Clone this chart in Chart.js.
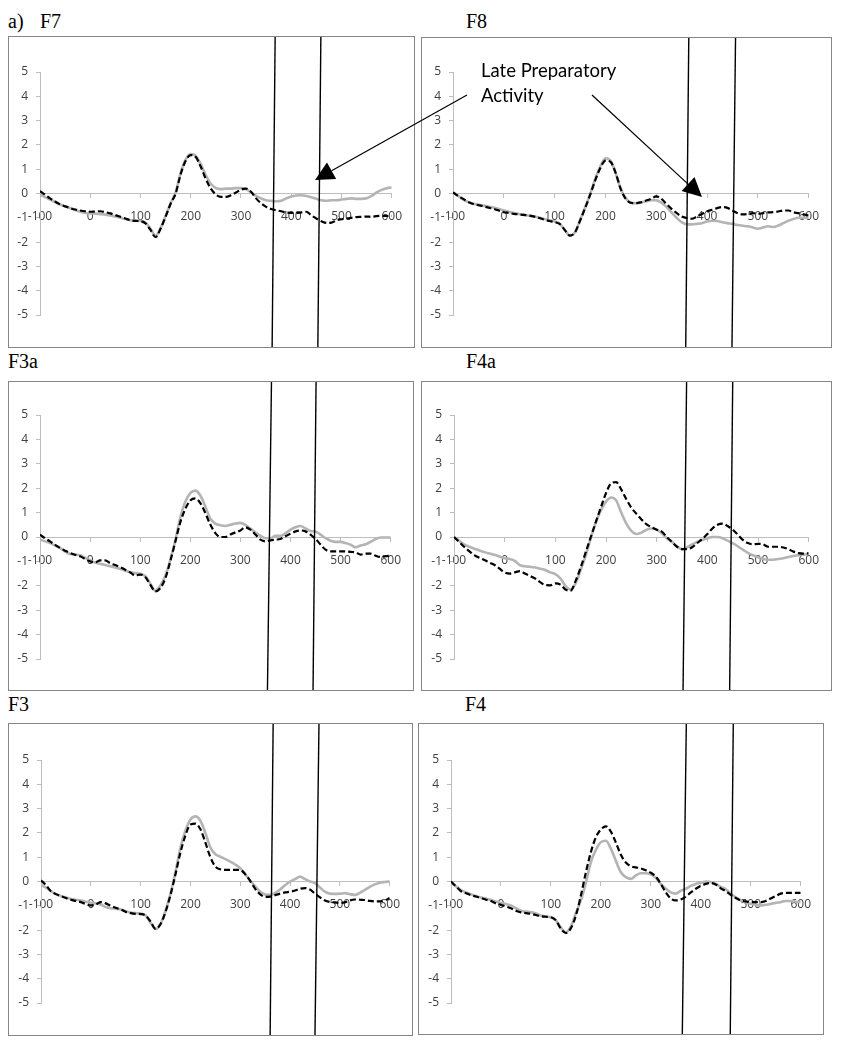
<!DOCTYPE html>
<html>
<head>
<meta charset="utf-8">
<script src="https://cdn.jsdelivr.net/npm/chart.js@4/dist/chart.umd.min.js"></script>
<style>
  body { margin: 0; background: #fff; }
  #page { position: relative; width: 841px; height: 1050px; overflow: hidden; }
  .box { position: absolute; border: 1px solid #858585; box-sizing: border-box; }
  .box canvas { position: absolute; left: 0; top: 0; }
  .title { position: absolute; font-family: 'Liberation Serif', 'Times New Roman', serif; font-size: 20px; line-height: 20px; color: #000; white-space: pre; }
  .note { position: absolute; font-family: Lato, 'Open Sans', sans-serif; font-size: 18.5px; line-height: 25px; color: #000; }
  #arrows { position: absolute; left: 0; top: 0; pointer-events: none; }
</style>
</head>
<body>
<div id="page">
  <div class="title" style="left:8px; top:11px;">a)</div>
  <div class="title" style="left:40px; top:11px;">F7</div>
  <div class="title" style="left:466px; top:11px;">F8</div>
  <div class="title" style="left:8px; top:351px;">F3a</div>
  <div class="title" style="left:466px; top:351px;">F4a</div>
  <div class="title" style="left:8px; top:694px;">F3</div>
  <div class="title" style="left:465px; top:694px;">F4</div>
  <canvas id="arrows" width="841" height="1050"></canvas>
  <div class="note" style="left:481px; top:58px;">Late Preparatory<br>Activity</div>
</div>

<script>
// time axis (ms) and tick settings
const times = [
    -100, -90, -80, -70, -60, -50, -40, -30, -20, -10,
    0, 10, 20, 30, 40, 50, 60, 70, 80, 90,
    100, 110, 120, 130, 140, 150, 160, 170, 180, 190,
    200, 210, 220, 230, 240, 250, 260, 270, 280, 290,
    300, 310, 320, 330, 340, 350, 360, 370, 380, 390,
    400, 410, 420, 430, 440, 450, 460, 470, 480, 490,
    500, 510, 520, 530, 540, 550, 560, 570, 580, 590,
    600
];
const xTickStep = 100;
const yTickStep = 1;

// F7
const f7Black = [
    0.1, -0.05, -0.2, -0.33, -0.45, -0.53, -0.6, -0.66, -0.7, -0.73,
    -0.75, -0.74, -0.73, -0.77, -0.82, -0.89, -0.96, -1.03, -1.1, -1.13,
    -1.14, -1.23, -1.5, -1.8, -1.45, -0.95, -0.42, 0.0, 0.8, 1.35,
    1.58, 1.5, 1.1, 0.6, 0.2, -0.04, -0.14, -0.14, -0.07, 0.04,
    0.16, 0.2, 0.07, -0.2, -0.4, -0.55, -0.64, -0.69, -0.73, -0.78,
    -0.8, -0.8, -0.78, -0.75, -0.9, -1.03, -1.14, -1.21, -1.2, -1.1,
    -1.06, -1.03, -1.0, -0.97, -0.96, -0.95, -0.96, -0.93, -0.92, -0.92,
    -0.92
];
const f7Gray = [
    -0.05, -0.15, -0.25, -0.35, -0.45, -0.53, -0.6, -0.68, -0.75, -0.8,
    -0.82, -0.83, -0.85, -0.87, -0.9, -0.95, -1.0, -1.05, -1.1, -1.11,
    -1.12, -1.2, -1.45, -1.75, -1.42, -0.92, -0.4, 0.05, 0.85, 1.4,
    1.62, 1.55, 1.2, 0.75, 0.4, 0.22, 0.18, 0.2, 0.2, 0.22,
    0.22, 0.18, 0.05, -0.1, -0.2, -0.28, -0.3, -0.32, -0.3, -0.2,
    -0.12, -0.08, -0.07, -0.1, -0.15, -0.22, -0.28, -0.3, -0.28, -0.28,
    -0.25, -0.22, -0.2, -0.22, -0.22, -0.2, -0.1, 0.05, 0.15, 0.22,
    0.25
];

// F8
const f8Black = [
    0.05, -0.1, -0.22, -0.35, -0.43, -0.48, -0.53, -0.58, -0.63, -0.7,
    -0.77, -0.8, -0.84, -0.86, -0.88, -0.91, -0.95, -1.01, -1.08, -1.13,
    -1.18, -1.25, -1.5, -1.73, -1.6, -1.12, -0.6, -0.05, 0.55, 1.05,
    1.35, 1.3, 0.85, 0.19, -0.22, -0.38, -0.4, -0.36, -0.29, -0.22,
    -0.12, -0.22, -0.43, -0.63, -0.8, -0.95, -1.01, -1.04, -0.95, -0.84,
    -0.73, -0.67, -0.6, -0.56, -0.59, -0.7, -0.81, -0.86, -0.84, -0.81,
    -0.84, -0.81, -0.78, -0.77, -0.74, -0.7, -0.7, -0.77, -0.81, -0.86,
    -0.9
];
const f8Gray = [
    0.05, -0.1, -0.25, -0.35, -0.42, -0.46, -0.5, -0.54, -0.58, -0.64,
    -0.7, -0.75, -0.8, -0.84, -0.88, -0.91, -0.95, -1.0, -1.05, -1.1,
    -1.15, -1.25, -1.5, -1.73, -1.6, -1.1, -0.58, -0.02, 0.6, 1.12,
    1.45, 1.35, 0.85, 0.2, -0.2, -0.38, -0.4, -0.37, -0.32, -0.28,
    -0.28, -0.38, -0.55, -0.78, -1.0, -1.18, -1.27, -1.27, -1.25, -1.22,
    -1.15, -1.12, -1.13, -1.18, -1.22, -1.25, -1.3, -1.33, -1.35, -1.4,
    -1.45, -1.4, -1.35, -1.38, -1.32, -1.22, -1.12, -1.05, -1.0, -1.0,
    -1.0
];

// F3a
const f3aBlack = [
    0.1, -0.05, -0.18, -0.32, -0.45, -0.56, -0.66, -0.73, -0.79, -0.9,
    -1.0, -1.04, -0.96, -0.96, -1.07, -1.15, -1.23, -1.34, -1.45, -1.58,
    -1.54, -1.64, -1.95, -2.23, -2.1, -1.7, -1.0, -0.2, 0.6, 1.15,
    1.5, 1.58, 1.39, 0.98, 0.51, 0.16, 0.0, 0.0, 0.1, 0.19,
    0.27, 0.4, 0.3, 0.1, -0.11, -0.18, -0.14, -0.11, -0.08, 0.03,
    0.14, 0.23, 0.27, 0.23, 0.1, -0.08, -0.31, -0.52, -0.59, -0.59,
    -0.59, -0.59, -0.61, -0.63, -0.72, -0.68, -0.68, -0.77, -0.82, -0.79,
    -0.77
];
const f3aGray = [
    -0.1, -0.18, -0.25, -0.35, -0.45, -0.6, -0.7, -0.72, -0.75, -0.85,
    -0.95, -1.05, -1.1, -1.15, -1.2, -1.25, -1.3, -1.38, -1.45, -1.48,
    -1.5, -1.6, -1.9, -2.2, -2.0, -1.6, -0.95, -0.15, 0.8, 1.45,
    1.8, 1.9, 1.7, 1.25, 0.75, 0.55, 0.48, 0.45, 0.5, 0.55,
    0.58, 0.5, 0.35, 0.18, 0.05, -0.05, -0.05, 0.05, 0.05, 0.15,
    0.3, 0.4, 0.45, 0.35, 0.25, 0.22, 0.1, -0.05, -0.15, -0.2,
    -0.2, -0.25, -0.32, -0.42, -0.35, -0.3, -0.2, -0.08, -0.02, -0.02,
    -0.02
];

// F4a
const f4aBlack = [
    0.0, -0.2, -0.4, -0.58, -0.74, -0.85, -0.94, -1.05, -1.15, -1.3,
    -1.45, -1.5, -1.45, -1.4, -1.5, -1.6, -1.7, -1.85, -1.97, -1.98,
    -1.9, -1.95, -2.15, -2.2, -1.8, -1.25, -0.62, 0.0, 0.62, 1.22,
    1.8, 2.2, 2.25, 1.95, 1.55, 1.2, 0.95, 0.72, 0.52, 0.4,
    0.3, 0.22, 0.0, -0.2, -0.4, -0.5, -0.5, -0.42, -0.25, -0.08,
    0.12, 0.35, 0.5, 0.55, 0.45, 0.3, 0.1, -0.12, -0.25, -0.3,
    -0.28, -0.3, -0.4, -0.4, -0.4, -0.43, -0.5, -0.6, -0.66, -0.68,
    -0.67
];
const f4aGray = [
    0.0, -0.15, -0.3, -0.4, -0.48, -0.55, -0.62, -0.68, -0.73, -0.8,
    -0.87, -0.9, -0.98, -1.15, -1.2, -1.22, -1.25, -1.3, -1.35, -1.45,
    -1.52, -1.7, -2.0, -2.15, -1.9, -1.35, -0.75, -0.05, 0.6, 1.1,
    1.45, 1.62, 1.5, 1.0, 0.55, 0.25, 0.12, 0.18, 0.3, 0.35,
    0.3, 0.15, -0.05, -0.2, -0.38, -0.5, -0.42, -0.3, -0.2, -0.12,
    -0.05, 0.0, 0.0, -0.05, -0.15, -0.25, -0.38, -0.52, -0.65, -0.75,
    -0.83, -0.9, -0.93, -0.93, -0.9, -0.87, -0.82, -0.78, -0.75, -0.72,
    -0.7
];

// F3
const f3Black = [
    0.05, -0.15, -0.4, -0.52, -0.6, -0.68, -0.75, -0.8, -0.85, -0.93,
    -0.98, -0.95, -0.85, -0.9, -1.0, -1.08, -1.15, -1.25, -1.3, -1.33,
    -1.34, -1.4, -1.65, -1.95, -1.75, -1.25, -0.55, 0.3, 1.2, 1.9,
    2.35, 2.38, 2.15, 1.6, 1.0, 0.62, 0.5, 0.48, 0.48, 0.48,
    0.47, 0.3, 0.02, -0.3, -0.53, -0.63, -0.62, -0.56, -0.5, -0.45,
    -0.42, -0.37, -0.3, -0.27, -0.33, -0.5, -0.65, -0.78, -0.84, -0.86,
    -0.88, -0.86, -0.78, -0.74, -0.75, -0.76, -0.8, -0.82, -0.82, -0.78,
    -0.68
];
const f3Gray = [
    -0.15, -0.25, -0.4, -0.52, -0.6, -0.66, -0.72, -0.75, -0.78, -0.83,
    -0.88, -0.9, -0.95, -1.05, -1.1, -1.12, -1.15, -1.22, -1.28, -1.3,
    -1.32, -1.4, -1.7, -1.95, -1.75, -1.2, -0.5, 0.4, 1.4, 2.1,
    2.55, 2.68, 2.5, 2.0, 1.4, 1.12, 1.02, 0.92, 0.82, 0.7,
    0.55, 0.3, 0.04, -0.2, -0.42, -0.53, -0.55, -0.47, -0.33, -0.15,
    0.0, 0.1, 0.2, 0.1, 0.0, -0.07, -0.25, -0.42, -0.5, -0.51,
    -0.5, -0.48, -0.52, -0.55, -0.47, -0.35, -0.22, -0.12, -0.05, -0.02,
    0.0
];

// F4
const f4Black = [
    0.0, -0.2, -0.4, -0.48, -0.56, -0.62, -0.68, -0.75, -0.8, -0.9,
    -0.96, -1.03, -1.1, -1.2, -1.27, -1.3, -1.33, -1.38, -1.43, -1.45,
    -1.47, -1.6, -1.95, -2.12, -1.92, -1.4, -0.58, 0.38, 1.21, 1.82,
    2.14, 2.27, 2.05, 1.6, 1.1, 0.78, 0.63, 0.58, 0.54, 0.46,
    0.36, 0.2, -0.1, -0.45, -0.7, -0.78, -0.74, -0.62, -0.45, -0.3,
    -0.18, -0.1, -0.06, -0.12, -0.28, -0.4, -0.55, -0.68, -0.78, -0.82,
    -0.85, -0.85, -0.85, -0.8, -0.7, -0.6, -0.5, -0.47, -0.47, -0.47,
    -0.47
];
const f4Gray = [
    -0.05, -0.2, -0.35, -0.45, -0.53, -0.6, -0.66, -0.7, -0.76, -0.82,
    -0.88, -0.93, -0.99, -1.1, -1.2, -1.24, -1.26, -1.32, -1.4, -1.44,
    -1.47, -1.6, -1.9, -2.1, -1.85, -1.3, -0.78, -0.05, 0.8, 1.3,
    1.62, 1.68, 1.35, 0.85, 0.38, 0.18, 0.11, 0.25, 0.34, 0.34,
    0.3, 0.15, -0.1, -0.3, -0.45, -0.5, -0.38, -0.3, -0.18, -0.1,
    -0.05, 0.0, -0.02, -0.1, -0.22, -0.32, -0.5, -0.65, -0.78, -0.86,
    -0.92, -0.96, -0.99, -0.96, -0.92, -0.88, -0.85, -0.8, -0.8, -0.83,
    -0.85
];

// analysis window (ms) where the hand-drawn lines cross the top and bottom of each box
const windowTop = [[368, 459], [364, 456], [362, 451], [359, 450], [366, 458], [371, 465]];
const windowBottom = [[362, 453], [358, 449], [354, 445], [352, 444], [360, 450], [363, 459]];

// layout: box = outer frame, axisLeft/axisRight = page x of -100 and 600, yTop/yBottom = page y of 5 and -5
const panels = [
    { black: f7Black,  gray: f7Gray,  box: [8, 36, 407, 312],   axisLeft: 40,  axisRight: 393, yTop: 72,  yBottom: 315 },
    { black: f8Black,  gray: f8Gray,  box: [421, 37, 411, 311], axisLeft: 453, axisRight: 809, yTop: 72,  yBottom: 315 },
    { black: f3aBlack, gray: f3aGray, box: [8, 381, 406, 310],  axisLeft: 40,  axisRight: 393, yTop: 415, yBottom: 659 },
    { black: f4aBlack, gray: f4aGray, box: [421, 381, 411, 310], axisLeft: 454, axisRight: 809, yTop: 415, yBottom: 659 },
    { black: f3Black,  gray: f3Gray,  box: [8, 723, 405, 313],  axisLeft: 41,  axisRight: 391, yTop: 760, yBottom: 1003 },
    { black: f4Black,  gray: f4Gray,  box: [418, 723, 406, 312], axisLeft: 451, axisRight: 803, yTop: 760, yBottom: 1003 }
];

const axisColor = '#bdbdbd';
const labelColor = '#404040';
const tickFont = { family: "'Liberation Sans Narrow', 'Open Sans', sans-serif", size: 12 };

// slanted window lines drawn through the x scale
const windowLines = {
    id: 'windowLines',
    afterDraw(chart, args, opts) {
        const xs = chart.scales.x;
        const ctx = chart.ctx;
        ctx.save();
        ctx.strokeStyle = '#000';
        ctx.lineWidth = 1.4;
        opts.top.forEach(function (t, i) {
            ctx.beginPath();
            ctx.moveTo(xs.getPixelForValue(t), 0);
            ctx.lineTo(xs.getPixelForValue(opts.bottom[i]), chart.height);
            ctx.stroke();
        });
        ctx.restore();
    }
};

const page = document.getElementById('page');

panels.forEach(function (p, idx) {
    const [bx, by, bw, bh] = p.box;
    const box = document.createElement('div');
    box.className = 'box';
    box.style.left = bx + 'px';
    box.style.top = by + 'px';
    box.style.width = bw + 'px';
    box.style.height = bh + 'px';
    const canvas = document.createElement('canvas');
    const cw = bw - 2, ch = bh - 2;
    canvas.width = cw;
    canvas.height = ch;
    canvas.style.width = cw + 'px';
    canvas.style.height = ch + 'px';
    box.appendChild(canvas);
    page.insertBefore(box, document.getElementById('arrows'));

    const ox = bx + 1, oy = by + 1;
    const yAxisWidth = p.axisLeft - ox;

    new Chart(canvas, {
        type: 'line',
        data: {
            datasets: [
                {
                    data: times.map((t, i) => ({ x: t, y: p.black[i] })),
                    borderColor: '#000',
                    borderWidth: 2.2,
                    borderDash: [6, 3],
                    pointRadius: 0,
                    tension: 0.4,
                    cubicInterpolationMode: 'monotone'
                },
                {
                    data: times.map((t, i) => ({ x: t, y: p.gray[i] })),
                    borderColor: '#b4b4b4',
                    borderWidth: 2.6,
                    pointRadius: 0,
                    tension: 0.4,
                    cubicInterpolationMode: 'monotone'
                }
            ]
        },
        options: {
            responsive: false,
            animation: false,
            devicePixelRatio: 1,
            layout: {
                padding: {
                    left: 0,
                    right: ox + cw - p.axisRight,
                    top: p.yTop - oy,
                    bottom: oy + ch - p.yBottom
                }
            },
            plugins: {
                legend: { display: false },
                tooltip: { enabled: false },
                windowLines: { top: windowTop[idx], bottom: windowBottom[idx] }
            },
            scales: {
                x: {
                    type: 'linear',
                    min: -100,
                    max: 600,
                    position: { y: 0 },
                    afterFit: function (s) { s.height = 0; },
                    grid: { drawOnChartArea: false, drawTicks: true, tickLength: 4, color: axisColor },
                    border: { color: axisColor, width: 1 },
                    ticks: { stepSize: xTickStep, autoSkip: false, maxRotation: 0, padding: 12, color: labelColor, font: tickFont }
                },
                y: {
                    min: -5,
                    max: 5,
                    position: 'left',
                    afterFit: function (s) { s.width = yAxisWidth; },
                    grid: { drawOnChartArea: false, drawTicks: true, tickLength: 4, color: axisColor },
                    border: { color: axisColor, width: 1 },
                    ticks: { stepSize: yTickStep, autoSkip: false, padding: 8, color: labelColor, font: tickFont }
                }
            }
        },
        plugins: [windowLines]
    });
});

// annotation arrows pointing at the late window
const arrowCanvas = document.getElementById('arrows');
const actx = arrowCanvas.getContext('2d');

function drawArrow(x1, y1, x2, y2) {
    const ang = Math.atan2(y2 - y1, x2 - x1);
    const headLen = 19, headHalf = 9.5;
    const bx = x2 - headLen * Math.cos(ang);
    const by = y2 - headLen * Math.sin(ang);
    actx.strokeStyle = '#000';
    actx.lineWidth = 1.2;
    actx.beginPath();
    actx.moveTo(x1, y1);
    actx.lineTo(bx, by);
    actx.stroke();
    actx.fillStyle = '#000';
    actx.beginPath();
    actx.moveTo(x2, y2);
    actx.lineTo(bx + headHalf * Math.sin(ang), by - headHalf * Math.cos(ang));
    actx.lineTo(bx - headHalf * Math.sin(ang), by + headHalf * Math.cos(ang));
    actx.closePath();
    actx.fill();
}

drawArrow(467, 95, 315, 180);
drawArrow(592, 95, 702, 197);
</script>
</body>
</html>
